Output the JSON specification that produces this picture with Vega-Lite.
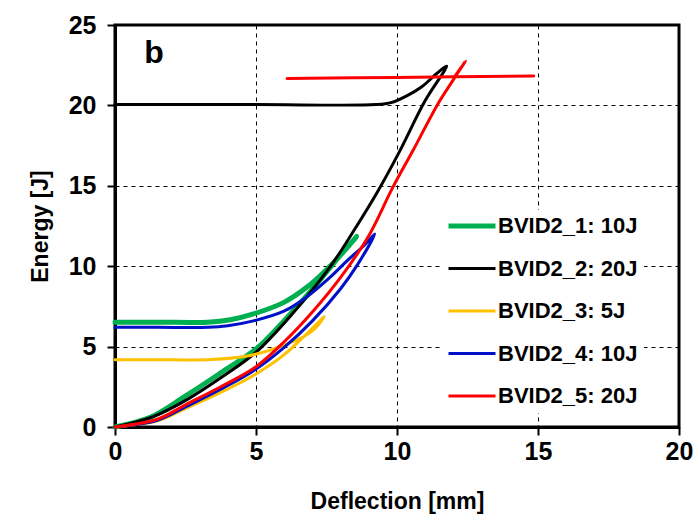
{
  "$schema": "https://vega.github.io/schema/vega-lite/v6.json",
  "width": 564,
  "height": 402,
  "autosize": {"type": "none"},
  "padding": {"left": 115, "top": 25, "right": 20, "bottom": 99},
  "background": "white",
  "config": {
    "font": "Liberation Sans",
    "view": {"stroke": "black", "strokeWidth": 3},
    "axis": {
      "domainColor": "black", "domainWidth": 3,
      "tickColor": "black", "tickWidth": 2, "tickSize": 8,
      "gridColor": "black", "gridDash": [4, 4], "gridWidth": 1, "gridOpacity": 1,
      "labelFont": "Liberation Sans", "labelFontWeight": "bold", "labelFontSize": 25, "labelColor": "black",
      "titleFont": "Liberation Sans", "titleFontWeight": "bold", "titleFontSize": 23, "titleColor": "black"
    },
    "legend": {
      "orient": "none", "legendX": 325, "legendY": 185,
      "fillColor": "white", "padding": 6,
      "symbolType": "stroke", "symbolSize": 2209,
      "clipHeight": 20, "rowPadding": 20.5, "labelOffset": 0,
      "labelFont": "Liberation Sans", "labelFontWeight": "bold", "labelFontSize": 22, "labelColor": "black",
      "title": null
    }
  },
  "layer": [
    {
      "data": {"values": [
        {"series": "BVID2_1: 10J", "seg": "1", "i": 0, "x": 0, "y": 0},
        {"series": "BVID2_1: 10J", "seg": "1", "i": 1, "x": 1.25, "y": 0.6},
        {"series": "BVID2_1: 10J", "seg": "1", "i": 2, "x": 2.5, "y": 1.93},
        {"series": "BVID2_1: 10J", "seg": "1", "i": 3, "x": 3.82, "y": 3.45},
        {"series": "BVID2_1: 10J", "seg": "1", "i": 4, "x": 5.0, "y": 4.85},
        {"series": "BVID2_1: 10J", "seg": "1", "i": 5, "x": 5.99, "y": 6.6},
        {"series": "BVID2_1: 10J", "seg": "1", "i": 6, "x": 6.94, "y": 8.45},
        {"series": "BVID2_1: 10J", "seg": "1", "i": 7, "x": 7.62, "y": 9.9},
        {"series": "BVID2_1: 10J", "seg": "1", "i": 8, "x": 8.1, "y": 10.9},
        {"series": "BVID2_1: 10J", "seg": "1", "i": 9, "x": 8.57, "y": 11.85},
        {"series": "BVID2_1: 10J", "seg": "1", "i": 10, "x": 8.16, "y": 11.0},
        {"series": "BVID2_1: 10J", "seg": "1", "i": 11, "x": 7.48, "y": 9.75},
        {"series": "BVID2_1: 10J", "seg": "1", "i": 12, "x": 6.81, "y": 8.7},
        {"series": "BVID2_1: 10J", "seg": "1", "i": 13, "x": 5.99, "y": 7.75},
        {"series": "BVID2_1: 10J", "seg": "1", "i": 14, "x": 4.91, "y": 7.03},
        {"series": "BVID2_1: 10J", "seg": "1", "i": 15, "x": 4.09, "y": 6.67},
        {"series": "BVID2_1: 10J", "seg": "1", "i": 16, "x": 3.28, "y": 6.52},
        {"series": "BVID2_1: 10J", "seg": "1", "i": 17, "x": 1.5, "y": 6.52},
        {"series": "BVID2_1: 10J", "seg": "1", "i": 18, "x": 0, "y": 6.52},

        {"series": "BVID2_2: 20J", "seg": "2", "i": 0, "x": 0, "y": 0},
        {"series": "BVID2_2: 20J", "seg": "2", "i": 1, "x": 1.38, "y": 0.66},
        {"series": "BVID2_2: 20J", "seg": "2", "i": 2, "x": 2.6, "y": 1.75},
        {"series": "BVID2_2: 20J", "seg": "2", "i": 3, "x": 3.83, "y": 3.15},
        {"series": "BVID2_2: 20J", "seg": "2", "i": 4, "x": 5.0, "y": 4.65},
        {"series": "BVID2_2: 20J", "seg": "2", "i": 5, "x": 6.26, "y": 6.98},
        {"series": "BVID2_2: 20J", "seg": "2", "i": 6, "x": 7.62, "y": 9.94},
        {"series": "BVID2_2: 20J", "seg": "2", "i": 7, "x": 8.5, "y": 12.3},
        {"series": "BVID2_2: 20J", "seg": "2", "i": 8, "x": 9.3, "y": 14.6},
        {"series": "BVID2_2: 20J", "seg": "2", "i": 9, "x": 10.05, "y": 17.0},
        {"series": "BVID2_2: 20J", "seg": "2", "i": 10, "x": 11.0, "y": 20.3},
        {"series": "BVID2_2: 20J", "seg": "2", "i": 11, "x": 11.76, "y": 22.45},
        {"series": "BVID2_2: 20J", "seg": "2", "i": 12, "x": 11.42, "y": 22.0},
        {"series": "BVID2_2: 20J", "seg": "2", "i": 13, "x": 10.88, "y": 21.16},
        {"series": "BVID2_2: 20J", "seg": "2", "i": 14, "x": 10.33, "y": 20.58},
        {"series": "BVID2_2: 20J", "seg": "2", "i": 15, "x": 9.79, "y": 20.17},
        {"series": "BVID2_2: 20J", "seg": "2", "i": 16, "x": 9.25, "y": 20.05},
        {"series": "BVID2_2: 20J", "seg": "2", "i": 17, "x": 5.0, "y": 20.05},
        {"series": "BVID2_2: 20J", "seg": "2", "i": 18, "x": 0, "y": 20.05},

        {"series": "BVID2_3: 5J", "seg": "3", "i": 0, "x": 0, "y": 0},
        {"series": "BVID2_3: 5J", "seg": "3", "i": 1, "x": 1.5, "y": 0.38},
        {"series": "BVID2_3: 5J", "seg": "3", "i": 2, "x": 2.5, "y": 1.15},
        {"series": "BVID2_3: 5J", "seg": "3", "i": 3, "x": 3.75, "y": 2.15},
        {"series": "BVID2_3: 5J", "seg": "3", "i": 4, "x": 5.0, "y": 3.3},
        {"series": "BVID2_3: 5J", "seg": "3", "i": 5, "x": 6.0, "y": 4.5},
        {"series": "BVID2_3: 5J", "seg": "3", "i": 6, "x": 6.8, "y": 5.8},
        {"series": "BVID2_3: 5J", "seg": "3", "i": 7, "x": 7.42, "y": 6.86},
        {"series": "BVID2_3: 5J", "seg": "3", "i": 8, "x": 7.08, "y": 6.1},
        {"series": "BVID2_3: 5J", "seg": "3", "i": 9, "x": 6.67, "y": 5.6},
        {"series": "BVID2_3: 5J", "seg": "3", "i": 10, "x": 5.99, "y": 5.1},
        {"series": "BVID2_3: 5J", "seg": "3", "i": 11, "x": 5.45, "y": 4.75},
        {"series": "BVID2_3: 5J", "seg": "3", "i": 12, "x": 4.64, "y": 4.4},
        {"series": "BVID2_3: 5J", "seg": "3", "i": 13, "x": 3.42, "y": 4.2},
        {"series": "BVID2_3: 5J", "seg": "3", "i": 14, "x": 1.5, "y": 4.18},
        {"series": "BVID2_3: 5J", "seg": "3", "i": 15, "x": 0, "y": 4.18},

        {"series": "BVID2_4: 10J", "seg": "4", "i": 0, "x": 0, "y": 0},
        {"series": "BVID2_4: 10J", "seg": "4", "i": 1, "x": 1.5, "y": 0.42},
        {"series": "BVID2_4: 10J", "seg": "4", "i": 2, "x": 2.5, "y": 1.25},
        {"series": "BVID2_4: 10J", "seg": "4", "i": 3, "x": 3.75, "y": 2.35},
        {"series": "BVID2_4: 10J", "seg": "4", "i": 4, "x": 5.0, "y": 3.6},
        {"series": "BVID2_4: 10J", "seg": "4", "i": 5, "x": 6.0, "y": 4.95},
        {"series": "BVID2_4: 10J", "seg": "4", "i": 6, "x": 7.0, "y": 6.6},
        {"series": "BVID2_4: 10J", "seg": "4", "i": 7, "x": 8.0, "y": 8.6},
        {"series": "BVID2_4: 10J", "seg": "4", "i": 8, "x": 8.6, "y": 10.1},
        {"series": "BVID2_4: 10J", "seg": "4", "i": 9, "x": 9.21, "y": 12.0},
        {"series": "BVID2_4: 10J", "seg": "4", "i": 10, "x": 8.84, "y": 11.3},
        {"series": "BVID2_4: 10J", "seg": "4", "i": 11, "x": 8.3, "y": 10.45},
        {"series": "BVID2_4: 10J", "seg": "4", "i": 12, "x": 7.62, "y": 9.3},
        {"series": "BVID2_4: 10J", "seg": "4", "i": 13, "x": 6.81, "y": 8.1},
        {"series": "BVID2_4: 10J", "seg": "4", "i": 14, "x": 5.99, "y": 7.2},
        {"series": "BVID2_4: 10J", "seg": "4", "i": 15, "x": 4.91, "y": 6.6},
        {"series": "BVID2_4: 10J", "seg": "4", "i": 16, "x": 4.0, "y": 6.3},
        {"series": "BVID2_4: 10J", "seg": "4", "i": 17, "x": 3.3, "y": 6.2},
        {"series": "BVID2_4: 10J", "seg": "4", "i": 18, "x": 1.5, "y": 6.2},
        {"series": "BVID2_4: 10J", "seg": "4", "i": 19, "x": 0, "y": 6.2},

        {"series": "BVID2_5: 20J", "seg": "5a", "i": 0, "x": 0, "y": 0},
        {"series": "BVID2_5: 20J", "seg": "5a", "i": 1, "x": 1.5, "y": 0.48},
        {"series": "BVID2_5: 20J", "seg": "5a", "i": 2, "x": 2.5, "y": 1.38},
        {"series": "BVID2_5: 20J", "seg": "5a", "i": 3, "x": 3.75, "y": 2.5},
        {"series": "BVID2_5: 20J", "seg": "5a", "i": 4, "x": 5.0, "y": 3.75},
        {"series": "BVID2_5: 20J", "seg": "5a", "i": 5, "x": 6.0, "y": 5.3},
        {"series": "BVID2_5: 20J", "seg": "5a", "i": 6, "x": 7.0, "y": 7.15},
        {"series": "BVID2_5: 20J", "seg": "5a", "i": 7, "x": 8.0, "y": 9.3},
        {"series": "BVID2_5: 20J", "seg": "5a", "i": 8, "x": 9.0, "y": 11.9},
        {"series": "BVID2_5: 20J", "seg": "5a", "i": 9, "x": 9.85, "y": 14.9},
        {"series": "BVID2_5: 20J", "seg": "5a", "i": 10, "x": 10.6, "y": 17.3},
        {"series": "BVID2_5: 20J", "seg": "5a", "i": 11, "x": 11.42, "y": 20.0},
        {"series": "BVID2_5: 20J", "seg": "5a", "i": 12, "x": 12.0, "y": 21.6},
        {"series": "BVID2_5: 20J", "seg": "5a", "i": 13, "x": 12.43, "y": 22.76},
        {"series": "BVID2_5: 20J", "seg": "5a", "i": 14, "x": 12.05, "y": 21.8},
        {"series": "BVID2_5: 20J", "seg": "5b", "i": 0, "x": 6.1, "y": 21.68},
        {"series": "BVID2_5: 20J", "seg": "5b", "i": 1, "x": 10.0, "y": 21.74},
        {"series": "BVID2_5: 20J", "seg": "5b", "i": 2, "x": 14.85, "y": 21.83}
      ]},
      "mark": {"type": "line", "interpolate": "catmull-rom", "strokeCap": "round", "strokeJoin": "round"},
      "encoding": {
        "x": {"field": "x", "type": "quantitative", "title": "Deflection [mm]",
              "scale": {"domain": [0, 20], "nice": false},
              "axis": {"values": [0, 5, 10, 15, 20], "labelPadding": 4, "titlePadding": 26, "labelFlush": false}},
        "y": {"field": "y", "type": "quantitative", "title": "Energy [J]",
              "scale": {"domain": [0, 25], "nice": false},
              "axis": {"values": [0, 5, 10, 15, 20, 25], "labelPadding": 11, "titlePadding": 16}},
        "color": {"field": "series", "type": "nominal",
                  "scale": {"domain": ["BVID2_1: 10J", "BVID2_2: 20J", "BVID2_3: 5J", "BVID2_4: 10J", "BVID2_5: 20J"],
                            "range": ["#00b050", "#000000", "#ffc000", "#0010c8", "#ff0000"]}},
        "strokeWidth": {"field": "series", "type": "nominal",
                  "scale": {"type": "ordinal", "domain": ["BVID2_1: 10J", "BVID2_2: 20J", "BVID2_3: 5J", "BVID2_4: 10J", "BVID2_5: 20J"],
                            "range": [5, 3, 3, 3, 3]}},
        "detail": {"field": "seg"},
        "order": {"field": "i", "type": "quantitative"}
      }
    },
    {
      "data": {"values": [{"label": "b", "x": 1.38, "y": 23.26}]},
      "mark": {"type": "text", "font": "Liberation Sans", "fontWeight": "bold", "fontSize": 32, "align": "center", "baseline": "middle", "color": "black"},
      "encoding": {
        "x": {"field": "x", "type": "quantitative"},
        "y": {"field": "y", "type": "quantitative"},
        "text": {"field": "label"}
      }
    }
  ]
}
